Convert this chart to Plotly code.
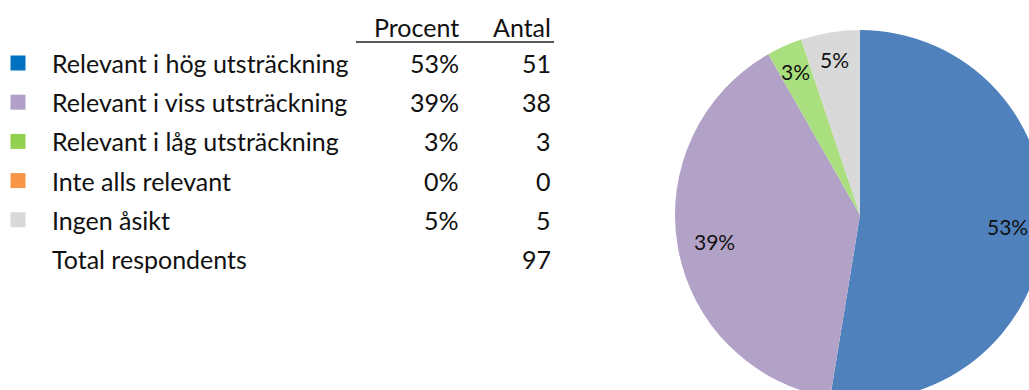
import math
import plotly.graph_objects as go

# ---- data ----
categories = [
    "Relevant i hög utsträckning",
    "Relevant i viss utsträckning",
    "Relevant i låg utsträckning",
    "Inte alls relevant",
    "Ingen åsikt",
]
antal = [51, 38, 3, 0, 5]
total_label = "Total respondents"
total = 97
header_procent = "Procent"
header_antal = "Antal"

# ---- styling ----
pie_colors = ["#4F81BD", "#B3A2C7", "#A9DF7F", "#F79646", "#D9D9D9"]
key_colors = ["#0070C0", "#B1A0C7", "#92D050", "#F79646", "#D9D9D9"]
label_radius = [0.80, 0.80, 0.85, 0.85, 0.85]   # slice-label distance from centre, fraction of R
FONT = "Lato, 'Open Sans', sans-serif"
TEXT_COLOR = "#111111"
TABLE_SIZE = 25
SLICE_SIZE = 21

W, H = 1045, 400          # drawing surface in px (pie runs off the window edge)
CX, CY, R = 860, 215, 185  # pie centre and radius in px

procent = [round(100 * a / total) for a in antal]

fig = go.Figure()

# pie
fig.add_trace(go.Pie(
    labels=categories,
    values=antal,
    sort=False,
    direction="clockwise",
    rotation=0,
    marker=dict(colors=pie_colors, line=dict(width=0)),
    textinfo="none",
    hoverinfo="label+value+percent",
    showlegend=False,
    domain=dict(x=[(CX - R) / W, (CX + R) / W], y=[(H - CY - R) / H, (H - CY + R) / H]),
))

# invisible pixel-space axes for the key table
fig.update_xaxes(range=[0, W], visible=False, fixedrange=True)
fig.update_yaxes(range=[H, 0], visible=False, fixedrange=True)

row0, row_step = 63, 39.2
rows_y = [row0 + i * row_step for i in range(len(categories) + 1)]

# coloured key squares
fig.add_trace(go.Scatter(
    x=[18] * len(categories),
    y=rows_y[:len(categories)],
    mode="markers",
    marker=dict(symbol="square", size=15, color=key_colors, line=dict(width=0)),
    showlegend=False,
    hoverinfo="skip",
))

annotations = []
def txt(x, y, s, anchor, size=TABLE_SIZE):
    annotations.append(dict(
        x=x, y=y, xref="x", yref="y", text=s, showarrow=False,
        xanchor=anchor, yanchor="middle",
        font=dict(family=FONT, size=size, color=TEXT_COLOR),
    ))

X_LABEL, X_PCT, X_CNT = 50, 461, 553
txt(X_PCT, 27, header_procent, "right")
txt(X_CNT, 27, header_antal, "right")
for i, cat in enumerate(categories):
    txt(X_LABEL, rows_y[i], cat, "left")
    txt(X_PCT, rows_y[i], f"{procent[i]}%", "right")
    txt(X_CNT, rows_y[i], str(antal[i]), "right")
txt(X_LABEL, rows_y[-1], total_label, "left")
txt(X_CNT, rows_y[-1], str(total), "right")

# slice labels placed along each slice's mid-angle
cum = 0
for a, p, lr in zip(antal, procent, label_radius):
    if a > 0:
        mid = (cum + a / 2) / total * 2 * math.pi
        rr = lr * R
        txt(CX + rr * math.sin(mid), CY - rr * math.cos(mid), f"{p}%", "center", size=SLICE_SIZE)
    cum += a

fig.update_layout(
    width=W, height=H,
    margin=dict(l=0, r=0, t=0, b=0),
    paper_bgcolor="white", plot_bgcolor="white",
    annotations=annotations,
    shapes=[dict(type="line", xref="x", yref="y", x0=356, x1=554, y0=42, y1=42,
                 line=dict(color="#222222", width=1.5))],
)

fig.write_html(
    "out.html",
    config={"displayModeBar": False, "staticPlot": True},
    post_script="document.documentElement.style.overflow='hidden';"
                "document.body.style.overflow='hidden';document.body.style.margin='0';",
)
